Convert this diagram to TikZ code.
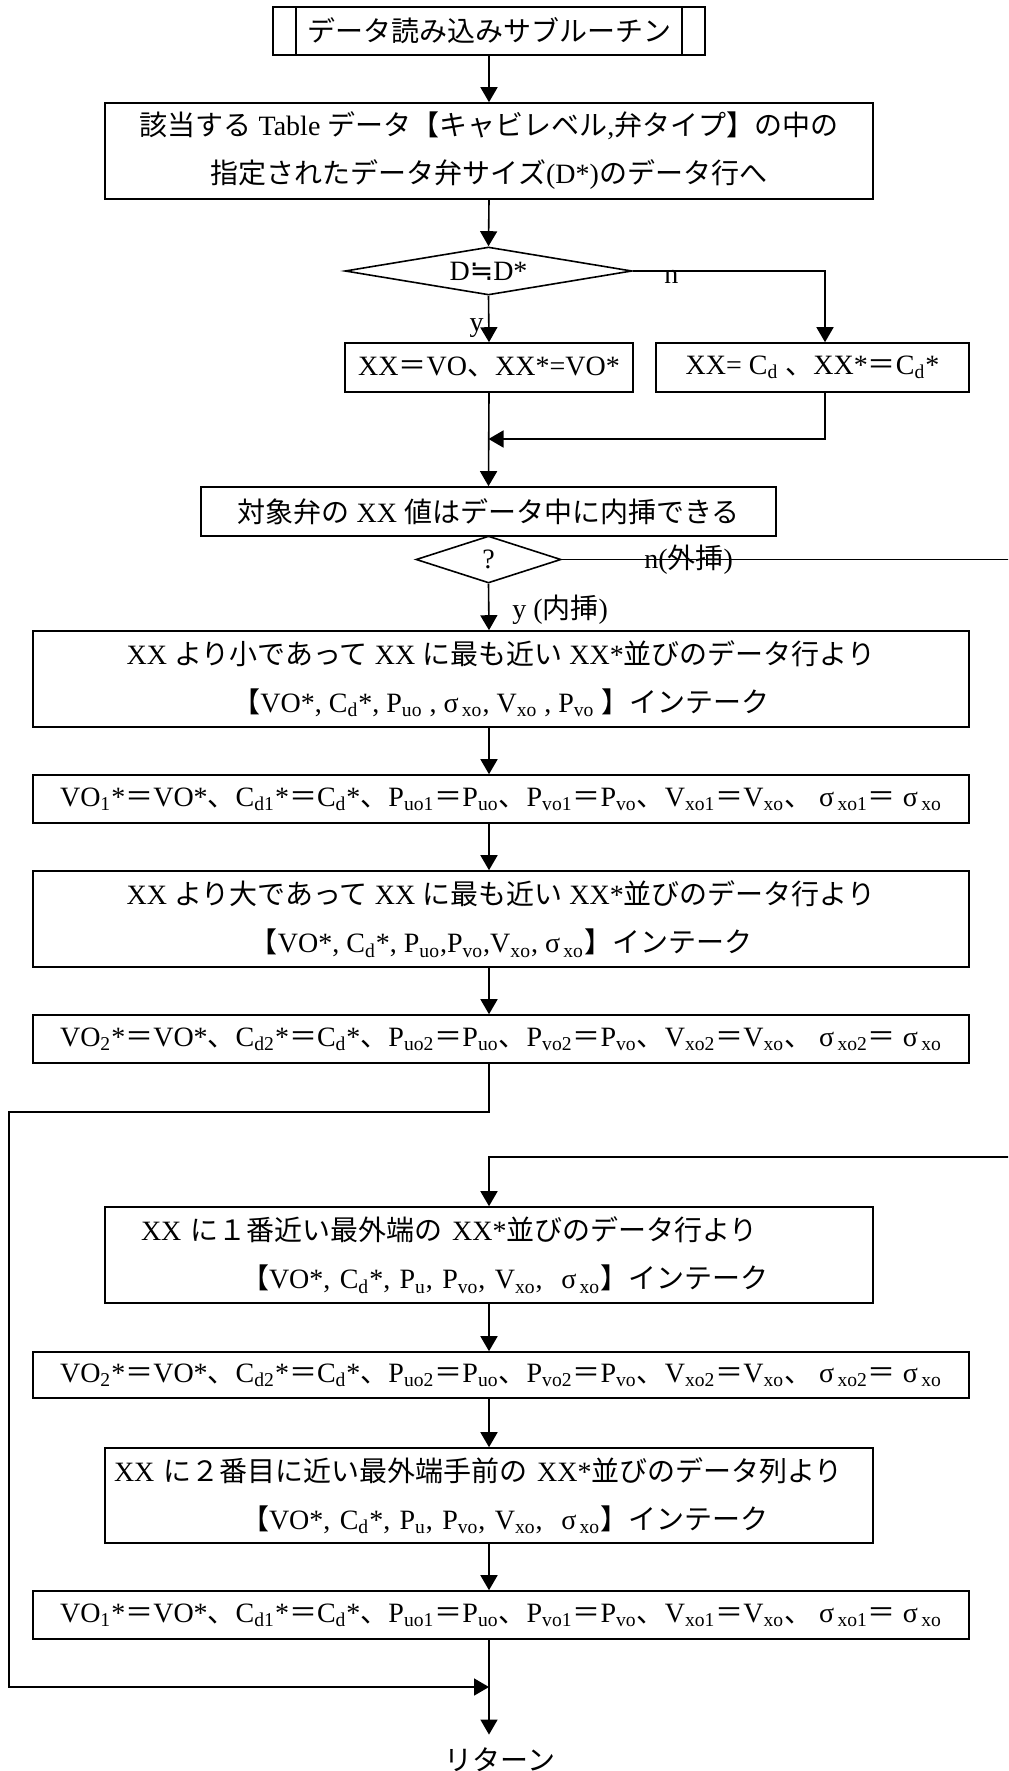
\documentclass[tikz,border=0pt]{standalone}
\usepackage{fontspec}
\setmainfont{Liberation Serif}
\newfontfamily\cjk{Noto Sans CJK JP}
\newfontfamily\symf{DejaVu Sans}
\usetikzlibrary{arrows.meta,shapes.geometric}
\newcommand{\jtxt}[1]{{\cjk #1}}
\newcommand{\sbs}[1]{\textsubscript{#1}}
\newcommand{\asgn}[1]{VO\sbs{#1}*\jtxt{＝}VO*\jtxt{、}C\sbs{d#1}*\jtxt{＝}C\sbs{d}*\jtxt{、}P\sbs{uo#1}\jtxt{＝}P\sbs{uo}\jtxt{、}P\sbs{vo#1}\jtxt{＝}P\sbs{vo}\jtxt{、}V\sbs{xo#1}\jtxt{＝}V\sbs{xo}\jtxt{、} σ\sbs{\,xo#1}\jtxt{＝} σ\sbs{\,xo}}
\newcommand{\intake}{\jtxt{【}VO*, C\sbs{d}*, P\sbs{u}, P\sbs{vo}, V\sbs{xo}, \ σ\sbs{\,xo}\jtxt{】インテーク}}

\begin{document}
\begin{tikzpicture}[x=0.5pt,y=-0.5pt,
    box/.style={draw,line width=0.8pt,inner sep=0pt,align=center,font=\fontsize{14pt}{24pt}\selectfont},
    dec/.style={draw,diamond,line width=0.8pt,inner sep=0pt,font=\fontsize{14pt}{24pt}\selectfont},
    lbl/.style={inner sep=0pt,font=\fontsize{14pt}{24pt}\selectfont},
    line/.style={line width=0.8pt},
    arr/.style={line width=0.8pt,-{Triangle[length=7.5pt,width=8.5pt]}}]
  \useasboundingbox (0,0) rectangle (1008,1771);
  \clip (0,0) rectangle (1008,1771);
  \coordinate (axis) at (489,0);

  % upper part
  \node[box,minimum width=216pt,minimum height=24pt] (sub) at (489,31) {\jtxt{データ読み込みサブルーチン}};
  \draw[line] ([xshift=12pt]sub.north west) -- ([xshift=12pt]sub.south west);
  \draw[line] ([xshift=-12pt]sub.north east) -- ([xshift=-12pt]sub.south east);
  \node[box,minimum width=384pt,minimum height=48pt] (table) at (489,151)
    {\jtxt{該当する} Table \jtxt{データ【キャビレベル},\jtxt{弁タイプ】の中の}\\\jtxt{指定されたデータ弁サイズ}(D*)\jtxt{のデータ行へ}};
  \node[dec,aspect=6,minimum width=143.5pt,minimum height=24pt] (dq) at (488.5,271) {D{\symf ≒}D*};
  \node[box,minimum width=144pt,minimum height=24.5pt] (setvo) at (489,367.5) {XX\jtxt{＝}VO\jtxt{、}XX*=VO*};
  \node[box,minimum width=156.5pt,minimum height=24.5pt] (setcd) at (812.5,367.5) {XX= C\sbs{d} \jtxt{、}XX*\jtxt{＝}C\sbs{d}*};
  \node[box,minimum width=287.5pt,minimum height=24.5pt] (inrange) at (488.5,511.5) {\jtxt{対象弁の} XX \jtxt{値はデータ中に内挿できる}};
  \node[dec,aspect=3.1,minimum width=72.5pt,minimum height=23.5pt] (isin) at (488.5,559.5) {?};

  % interpolation
  \node[box,minimum width=468pt,minimum height=48pt] (lower) at (501,679)
    {XX \jtxt{より小であって} XX \jtxt{に最も近い} XX*\jtxt{並びのデータ行より}\\\jtxt{【}VO*, C\sbs{d}*, P\sbs{uo} , σ\sbs{\,xo}, V\sbs{xo} , P\sbs{vo} \jtxt{】インテーク}};
  \node[box,minimum width=468pt,minimum height=24pt] (keep1) at (501,799) {\asgn{1}};
  \node[box,minimum width=468pt,minimum height=48pt] (upper) at (501,919)
    {XX \jtxt{より大であって} XX \jtxt{に最も近い} XX*\jtxt{並びのデータ行より}\\\jtxt{【}VO*, C\sbs{d}*, P\sbs{uo},P\sbs{vo},V\sbs{xo}, σ\sbs{\,xo}\jtxt{】インテーク}};
  \node[box,minimum width=468pt,minimum height=24pt] (keep2) at (501,1039) {\asgn{2}};

  % extrapolation
  \node[box,minimum width=384pt,minimum height=48pt,text width=384pt,align=left] (outer1) at (489,1255)
    {\hspace*{18pt}XX \jtxt{に１番近い最外端の} XX*\jtxt{並びのデータ行より}\\\hspace*{68pt}\intake};
  \node[box,minimum width=468pt,minimum height=23pt] (keep3) at (501,1375) {\asgn{2}};
  \node[box,minimum width=384pt,minimum height=47.5pt,text width=384pt,align=left] (outer2) at (489,1495.5)
    {\hspace*{4.5pt}XX \jtxt{に２番目に近い最外端手前の} XX*\jtxt{並びのデータ列より}\\\hspace*{68pt}\intake};
  \node[box,minimum width=468pt,minimum height=24pt] (keep4) at (501,1615) {\asgn{1}};
  \node[lbl,inner ysep=6.5pt] (ret) at (500,1760) {\jtxt{リターン}};

  % labels
  \node[lbl,anchor=base west] (nlab) at (664,284) {n};
  \node[lbl,anchor=base east] (ylab) at (484,331) {y};
  \node[lbl,anchor=west] (nout) at (644,559.5) {n(\jtxt{外挿})};
  \node[lbl,anchor=west] (yin) at (512,610) {y (\jtxt{内挿})};

  % connectors
  \coordinate (merge) at (488.5,439);
  \coordinate (join) at (489,1687);
  \draw[arr] (sub.south) -- (table.north);
  \draw[arr] (table.south) -- (dq.north);
  \draw[arr] (dq.east) -| ([xshift=6.25pt]setcd.north);
  \draw[arr] (dq.south) -- (setvo.north);
  \draw[arr] ([xshift=6.25pt]setcd.south) |- (merge);
  \draw[arr] (setvo.south) -- (inrange.north);
  \draw[arr] (isin.south) -- (lower.north -| axis);
  \draw[arr] (isin.east) -- ++(560,0) |- ([yshift=24.5pt]outer1.north) -- (outer1.north);
  \draw[arr] (lower.south -| axis) -- (keep1.north -| axis);
  \draw[arr] (keep1.south -| axis) -- (upper.north -| axis);
  \draw[arr] (upper.south -| axis) -- (keep2.north -| axis);
  \draw[arr] (keep2.south -| axis) -- ++(0,48) -- ++(-480,0) |- (join);
  \draw[arr] (outer1.south) -- (keep3.north -| axis);
  \draw[arr] (keep3.south -| axis) -- (outer2.north);
  \draw[arr] (outer2.south) -- (keep4.north -| axis);
  \draw[arr] (keep4.south -| axis) -- (ret.north -| axis);
\end{tikzpicture}
\end{document}
